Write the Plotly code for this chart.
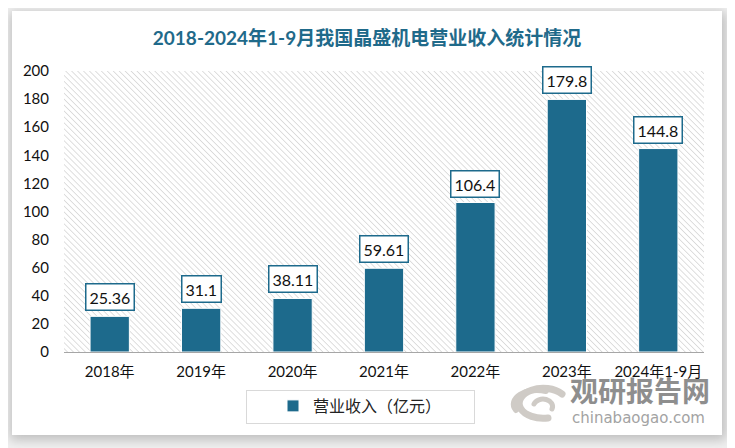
import base64
import plotly.graph_objects as go

categories = ["2018年", "2019年", "2020年", "2021年", "2022年", "2023年", "2024年1-9月"]
revenue = [25.36, 31.1, 38.11, 59.61, 106.4, 179.8, 144.8]
label_text = ["25.36", "31.1", "38.11", "59.61", "106.4", "179.8", "144.8"]
y_ticks = [0, 20, 40, 60, 80, 100, 120, 140, 160, 180, 200]

# page body has an 8px margin, so the figure is drawn 8px smaller and offset
O = 8
W, H = 735 - O, 448 - O
ML, MR, MT, MB = 64 - O, 31, 71 - O, 96
PW, PH = W - ML - MR, H - MT - MB
BAR = "#1D6A8C"
FONT = "Lato, 'Noto Sans CJK SC', sans-serif"


def px(x):
    return x - O


svg = f'''<svg xmlns="http://www.w3.org/2000/svg" width="{W}" height="{H}" viewBox="0 0 {W} {H}">
<defs>
<filter id="sh" x="-10%" y="-10%" width="120%" height="120%"><feGaussianBlur stdDeviation="6"/></filter>
<pattern id="hatch" patternUnits="userSpaceOnUse" width="4.2" height="4.2" patternTransform="rotate(-45)">
<line x1="0" y1="0" x2="0" y2="4.2" stroke="#c9c9c9" stroke-width="1.2"/>
</pattern>
</defs>
<rect x="0" y="0" width="{W}" height="{H}" fill="#f1f1f1"/>
<rect x="{px(10)}" y="{px(12)}" width="716" height="428" fill="#bdbdbd" filter="url(#sh)"/>
<rect x="{px(12)}" y="{px(11)}" width="710" height="424" fill="#ffffff"/>
<rect x="{ML}" y="{MT}" width="{PW}" height="{PH}" fill="url(#hatch)"/>
<rect x="{px(246.5)}" y="{px(390.5)}" width="228" height="33" fill="#ffffff" stroke="#d9d9d9" stroke-width="1"/>
<g fill="none" stroke="#cfcbc6" stroke-linecap="round" transform="translate({-O},{-O})">
<path d="M562 394 A 24 15 0 1 0 548 418" stroke-width="7"/>
<path d="M516 410 A 24 14 0 0 1 546 391" stroke-width="6"/>
<path d="M534 404 A 9 7 0 1 1 552 409" stroke-width="5"/>
</g>
</svg>'''
uri = "data:image/svg+xml;base64," + base64.b64encode(svg.encode()).decode()

fig = go.Figure()
fig.add_trace(go.Bar(
    x=categories, y=revenue, name="营业收入（亿元）",
    marker=dict(color=BAR, line=dict(color="#ffffff", width=1)),
    width=0.43,
))

for c, v, t in zip(categories, revenue, label_text):
    fig.add_annotation(
        x=c, y=v, text=t, showarrow=False, yanchor="bottom", yshift=5,
        font=dict(family=FONT, size=16, color="#111111"),
        bgcolor="#ffffff", bordercolor=BAR, borderwidth=1.5, borderpad=3,
    )

# watermark
fig.add_annotation(xref="paper", yref="paper", x=(px(640) - ML) / PW, y=(MT + PH - px(390)) / PH,
                   text="<b>观研报告网</b>", showarrow=False, xanchor="center", yanchor="middle",
                   font=dict(family="'Noto Sans CJK SC', sans-serif", size=28, color="#8e8e8e"))
fig.add_annotation(xref="paper", yref="paper", x=(px(638) - ML) / PW, y=(MT + PH - px(418)) / PH,
                   text="chinabaogao.com", showarrow=False, xanchor="center", yanchor="middle",
                   font=dict(family="'DejaVu Sans', sans-serif", size=15, color="#a3a3a3"))

fig.update_layout(
    width=W, height=H,
    margin=dict(l=ML, r=MR, t=MT, b=MB),
    paper_bgcolor="#f1f1f1", plot_bgcolor="rgba(0,0,0,0)",
    images=[dict(source=uri, xref="paper", yref="paper",
                 x=-ML / PW, y=(PH + MT) / PH, sizex=W / PW, sizey=H / PH,
                 xanchor="left", yanchor="top", sizing="stretch", layer="below")],
    title=dict(text="<b>2018-2024年1-9月我国晶盛机电营业收入统计情况</b>",
               xref="container", yref="container", x=px(367) / W, y=1 - px(38) / H,
               xanchor="center", yanchor="middle",
               font=dict(family=FONT, size=19, color="#1F6A8A")),
    showlegend=True,
    legend=dict(orientation="h", xanchor="center", yanchor="middle",
                x=(px(360) - ML) / PW, y=(MT + PH - px(406)) / PH,
                bgcolor="rgba(0,0,0,0)", font=dict(family=FONT, size=16, color="#222222")),
    xaxis=dict(showline=True, linecolor="#a6a6a6", linewidth=1, showgrid=False,
               ticks="", ticklabelstandoff=6,
               tickfont=dict(family=FONT, size=15, color="#111111")),
    yaxis=dict(range=[0, 200], tickvals=y_ticks, showgrid=False, zeroline=False,
               showline=False, ticks="", ticklabelstandoff=14,
               tickfont=dict(family=FONT, size=15, color="#111111")),
    bargap=0.57,
)

fig.write_html("out.html")
